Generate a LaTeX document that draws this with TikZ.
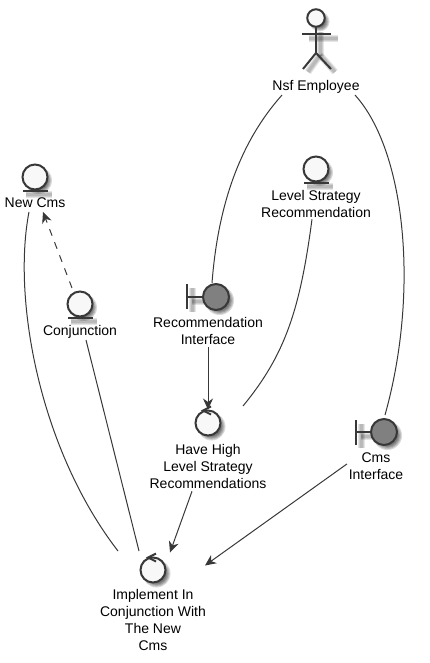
\documentclass[tikz,border=0pt]{standalone}
\usepackage{fontspec}
\setmainfont{Liberation Sans}
\usetikzlibrary{arrows.meta}
\definecolor{ink}{HTML}{383838}
\definecolor{lite}{HTML}{F8F8F8}
\definecolor{bound}{HTML}{808080}
\tikzset{
  x=1pt,y=-1pt,
  lbl/.style={inner sep=0pt,outer sep=0pt,align=center,anchor=north,text=black,font=\fontsize{14}{17}\selectfont},
  bub/.style={circle,draw=ink,line width=2pt,fill=lite,minimum size=25pt,inner sep=0pt,outer sep=0pt},
  bnd/.style={circle,draw=ink,line width=2pt,fill=bound,minimum size=26pt,inner sep=0pt,outer sep=0pt},
  part/.style={draw=ink,line width=2pt},
  conn/.style={draw=ink,line width=1pt},
  arr/.style={conn,-{Stealth[length=11pt,width=10pt,inset=3.5pt]}},
  shd/.style={fill=black,opacity=0.14},
  shl/.style={draw=black,opacity=0.10,line cap=butt}
}
\newcommand{\blob}[3]{%
  \foreach \rr in {1.5,0.5,-0.5,-1.5,-2.5}{\fill[shd] (#1+3.5,#2+3.5) circle[radius=#3+\rr];}}
\newcommand{\shline}[1]{%
  \foreach \ww in {7,5,3}{\draw[shl,line width=\ww pt] #1;}}
\begin{document}
\begin{tikzpicture}
\useasboundingbox (0,0) rectangle (429,663);
% shadows
\blob{316}{18}{8.5}
\shline{(309,39) -- (338,39)}
\shline{(320,32) -- (320,56)}
\shline{(320,55) -- (308,72)}
\shline{(320,55) -- (335,72)}
\blob{35}{177}{12}
\shline{(26,194) -- (52,194)}
\blob{80}{304}{12}
\shline{(71,321) -- (97,321)}
\blob{316}{169}{12}
\shline{(307,186) -- (333,186)}
\blob{216}{297}{13}
\shline{(192,288) -- (192,312)}
\shline{(192,301) -- (206,301)}
\blob{384}{432}{13}
\shline{(361,424) -- (361,448)}
\shline{(361,436) -- (374,436)}
\blob{208}{423}{12.5}
\blob{153}{570}{12.5}
% actor
\node[bub,minimum size=17.5pt] (nsfhead) at (316,18) {};
\coordinate (nsfhip) at (316,53);
\draw[part] (nsfhead.south) -- (nsfhip);
\draw[part] (302,34) -- (331,34);
\draw[part] (303,69) -- (nsfhip) -- (331,69);
\node[lbl] (nsf) at (316,80) {Nsf Employee};
% entities
\node[bub] (newcms) at (35,177) {};
\draw[part] (23,191) -- (48,191);
\node[lbl] (newcmsl) at (35,198) {New Cms};
\node[bub] (conj) at (80,304) {};
\draw[part] (68,318) -- (93,318);
\node[lbl] (conjl) at (80,325) {Conjunction};
\node[bub] (level) at (316,169) {};
\draw[part] (304,183) -- (329,183);
\node[lbl] (levell) at (316,190) {Level Strategy\\Recommendation};
% boundaries
\node[bnd] (recif) at (216,297) {};
\draw[part] (187,284) -- (187,309);
\draw[part] (187,297) -- (recif.west);
\node[lbl] (recifl) at (208,317) {Recommendation\\Interface};
\node[bnd] (cmsif) at (384,432) {};
\draw[part] (356,420) -- (356,445);
\draw[part] (356,432) -- (cmsif.west);
\node[lbl] (cmsifl) at (376,453) {Cms\\Interface};
% controls
\node[bub] (have) at (208,423) {};
\draw[part] (211,406.5) -- (203,410.5) -- (211,414.5);
\node[lbl] (havel) at (208,444) {Have High\\Level Strategy\\Recommendations};
\node[bub] (impl) at (153,570) {};
\draw[part] (156,553.5) -- (148,557.5) -- (156,561.5);
\node[lbl] (impll) at (153,589) {Implement In\\Conjunction With\\The New\\Cms};
% connectors
\draw[conn] ([xshift=-34pt,yshift=-2pt]nsf.south) .. controls (240,142) and (218,205) .. ([xshift=-4pt,yshift=1pt]recif.north);
\draw[conn] ([xshift=39pt,yshift=-2pt]nsf.south) .. controls (405,150) and (420,290) .. ([xshift=1pt,yshift=4pt]cmsif.north);
\draw[conn] ([xshift=-4pt,yshift=-2pt]levell.south) .. controls (300,310) and (285,355) .. ([xshift=35pt,yshift=4.5pt]have.north);
\draw[arr] ([yshift=-3pt]recifl.south) -- ([yshift=1pt]have.north);
\draw[arr] ([xshift=-16pt,yshift=-3pt]havel.south) -- ([xshift=17pt,yshift=5pt]impl.north);
\draw[arr] ([xshift=-29pt,yshift=16pt]cmsifl.south) -- ([xshift=52pt,yshift=-8pt]impl.north);
\draw[arr,dash pattern=on 7pt off 7pt] ([xshift=-8pt,yshift=3.5pt]conj.north) -- ([xshift=8pt,yshift=-4pt]newcmsl.south);
\draw[conn] ([xshift=6pt,yshift=-2pt]conjl.south) -- ([xshift=-14pt,yshift=6.5pt]impl.north);
\draw[conn] ([xshift=-6pt,yshift=-4pt]newcmsl.south) .. controls (12,300) and (40,450) .. ([xshift=-35pt,yshift=6.5pt]impl.north);
\end{tikzpicture}
\end{document}
